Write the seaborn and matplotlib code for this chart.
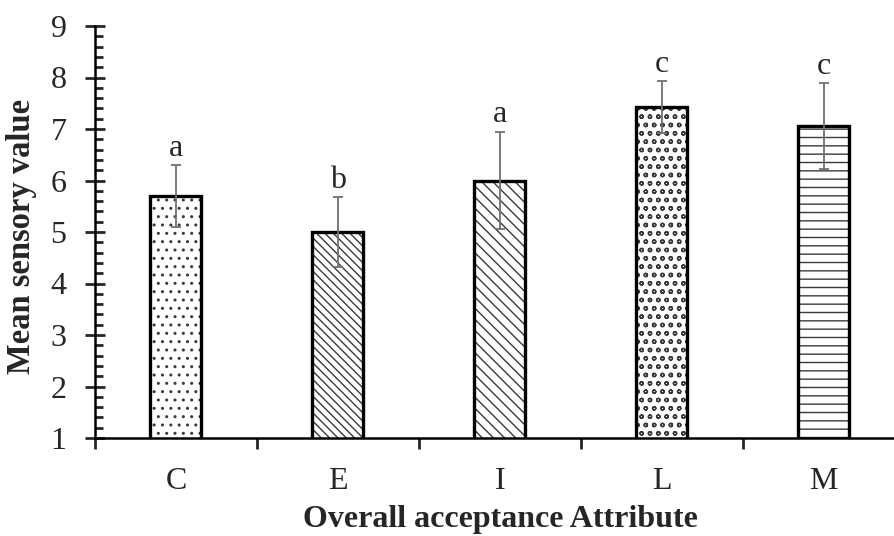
import matplotlib
matplotlib.use("Agg")
import matplotlib.pyplot as plt
import seaborn as sns
import numpy as np
from matplotlib.ticker import MultipleLocator, FixedLocator

categories = ["C", "E", "I", "L", "M"]
means = [5.70, 5.00, 6.00, 7.43, 7.06]
errors = [0.60, 0.67, 0.95, 0.50, 0.83]
letters = ["a", "b", "a", "c", "c"]
hatches = ["..", "\\\\\\\\", "\\\\\\", "oo", "--"]
y_ticks = [1, 2, 3, 4, 5, 6, 7, 8, 9]

sns.set_style("white")
plt.rcParams["font.family"] = ["Liberation Serif", "DejaVu Serif"]
plt.rcParams["hatch.linewidth"] = 1.0

fig = plt.figure(figsize=(8.95, 5.36), dpi=100)
ax = fig.add_axes([95 / 895, (536 - 438) / 536, 1 - 95 / 895, (438 - 26) / 536])

sns.barplot(x=categories, y=means, color="white", errorbar=None, width=0.315,
            edgecolor="#333333", linewidth=0, ax=ax)
for p, h in zip(ax.patches, hatches):
    p.set_hatch(h)
    p.set_edgecolor("#3a3a3a")
    p.set_linewidth(0)
# outlines
sns.barplot(x=categories, y=means, fill=False, errorbar=None, width=0.315,
            edgecolor="black", linewidth=2.4, ax=ax)

xs = np.arange(len(categories))
ax.errorbar(xs, means, yerr=errors, fmt="none", ecolor="#707070", elinewidth=1.3,
            capsize=3.5, capthick=1.3, zorder=5)
for x, m, e, l in zip(xs, means, errors, letters):
    ax.annotate(l, (x, m + e), xytext=(0, 1.5), textcoords="offset points",
                ha="center", va="bottom", fontsize=23)

ax.set_ylim(1, 9)
ax.set_xlim(-0.5, 4.44)
ax.yaxis.set_major_locator(FixedLocator(y_ticks))
ax.yaxis.set_minor_locator(MultipleLocator(0.2))
ax.tick_params(axis="y", which="major", direction="inout", length=15, width=2,
               labelsize=23, pad=13, left=True)
ax.tick_params(axis="y", which="minor", direction="in", length=6, width=2, left=True)
ax.xaxis.set_minor_locator(FixedLocator([-0.5, 0.5, 1.5, 2.5, 3.5]))
ax.tick_params(axis="x", which="major", length=0, labelsize=23, pad=21)
ax.tick_params(axis="x", which="minor", direction="out", length=8, width=2, bottom=True)

for s in ["top", "right"]:
    ax.spines[s].set_visible(False)
for s in ["left", "bottom"]:
    ax.spines[s].set_linewidth(1.8)
    ax.spines[s].set_color("black")

ax.set_xlabel("Overall acceptance Attribute", fontsize=23, fontweight="bold")
ax.set_ylabel("Mean sensory value", fontsize=23.5, fontweight="bold")
ax.xaxis.set_label_coords((500 - 95) / 800, -0.163)
ax.yaxis.set_label_coords(-0.072, 0.49)

fig.savefig("out.png", dpi=100)
